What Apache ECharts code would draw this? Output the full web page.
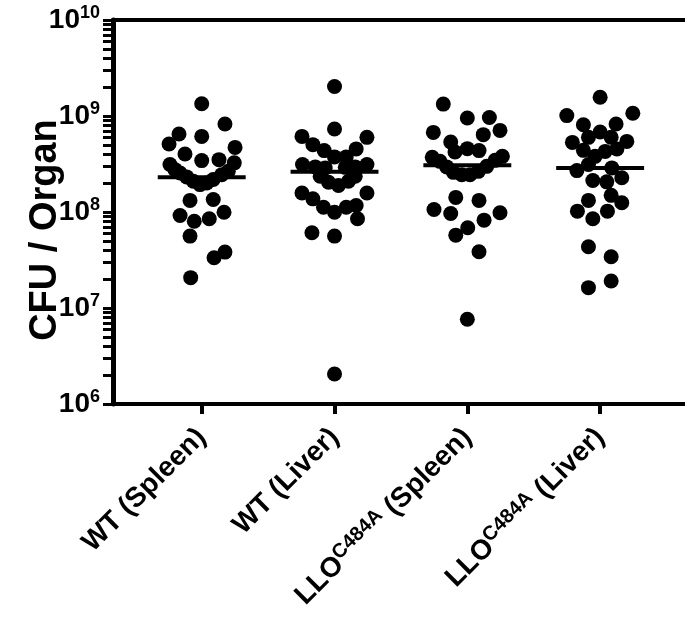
<!DOCTYPE html>
<html>
<head>
<meta charset="utf-8">
<script src="https://cdn.jsdelivr.net/npm/echarts@6/dist/echarts.min.js"></script>
<style>
  html, body { margin: 0; padding: 0; background: #fff; }
  #chart { width: 685px; height: 618px; }
</style>
</head>
<body>
<div id="chart"></div>
<script>
const categories = ['WT (Spleen)', 'WT (Liver)', 'LLO^C484A (Spleen)', 'LLO^C484A (Liver)'];
const yTickExponents = [6, 7, 8, 9, 10];

// CFU per organ, one value per mouse; jitter = horizontal spread in category units
const wtSpleen = [1.34e9, 8.25e8, 6.49e8, 6.13e8, 5.11e8, 4.71e8, 4.02e8, 3.43e8, 3.51e8, 3.12e8,
  3.25e8, 2.76e8, 2.55e8, 2.32e8, 2.09e8, 1.93e8, 2.01e8, 2.18e8, 2.45e8, 2.65e8,
  1.32e8, 1.35e8, 9.2e7, 8.02e7, 8.5e7, 9.95e7, 5.61e7, 3.34e7, 3.82e7, 2.07e7];
const wtSpleenJitter = [0, 0.175, -0.171, 0, -0.246, 0.251, -0.126, 0, 0.13, -0.239,
  0.245, -0.201, -0.163, -0.113, -0.063, -0.013, 0.038, 0.087, 0.151, 0.2,
  -0.088, 0.087, -0.163, -0.056, 0.057, 0.168, -0.088, 0.093, 0.175, -0.083];

const wtLiver = [2.03e9, 7.32e8, 6.13e8, 5.99e8, 5.03e8, 4.36e8, 4.54e8, 3.75e8, 3.75e8, 3.12e8,
  3.12e8, 2.95e8, 2.95e8, 2.88e8, 2.92e8, 2.36e8, 2.04e8, 1.89e8, 2.09e8, 2.36e8,
  1.58e8, 1.37e8, 1.12e8, 9.95e7, 1.12e8, 1.17e8, 1.58e8, 8.5e7, 6.08e7, 5.61e7, 2.05e6];
const wtLiverJitter = [0, 0, -0.245, 0.244, -0.163, -0.078, 0.163, 0, 0.088, -0.241,
  0.244, -0.145, 0.156, -0.07, 0.081, -0.108, -0.045, 0.03, 0.105, 0.156,
  -0.245, -0.163, -0.083, 0, 0.088, 0.163, 0.244, 0.173, -0.17, 0, 0];

const lloSpleen = [1.33e9, 9.52e8, 9.66e8, 6.75e8, 7.08e8, 6.39e8, 5.36e8, 4.22e8, 4.57e8, 4.36e8,
  3.71e8, 3.80e8, 3.37e8, 2.95e8, 2.59e8, 2.45e8, 2.45e8, 2.65e8, 2.99e8, 3.45e8,
  1.42e8, 1.32e8, 1.06e8, 9.65e7, 9.81e7, 8.22e7, 6.85e7, 5.74e7, 3.86e7, 7.64e6];
const lloSpleenJitter = [-0.181, 0, 0.166, -0.256, 0.246, 0.12, -0.125, -0.093, 0, 0.088,
  -0.264, 0.264, -0.206, -0.155, -0.105, -0.042, 0.02, 0.083, 0.146, 0.209,
  -0.087, 0.088, -0.251, -0.125, 0.246, 0.126, 0.003, -0.087, 0.088, 0];

const lloLiver = [1.57e9, 1.01e9, 1.07e9, 8.11e8, 8.25e8, 6.81e8, 5.99e8, 5.99e8, 5.31e8, 5.44e8,
  4.39e8, 4.28e8, 4.54e8, 3.80e8, 3.12e8, 2.70e8, 2.88e8, 2.13e8, 2.06e8, 2.27e8,
  1.49e8, 1.32e8, 1.25e8, 1.02e8, 8.5e7, 1.02e8, 4.35e7, 3.42e7, 1.63e7, 1.91e7];
const lloLiverJitter = [0, -0.251, 0.246, -0.126, 0.12, 0, -0.088, 0.083, -0.209, 0.201,
  -0.126, 0.038, 0.126, -0.038, -0.088, -0.175, 0.088, -0.055, 0.05, 0.163,
  0.083, -0.088, 0.163, -0.171, -0.055, 0.055, -0.088, 0.083, -0.088, 0.083];

const means = [2.30e8, 2.62e8, 3.06e8, 2.88e8];

const groups = [
  [wtSpleen, wtSpleenJitter],
  [wtLiver, wtLiverJitter],
  [lloSpleen, lloSpleenJitter],
  [lloLiver, lloLiverJitter]
];

const font = '"Liberation Sans", Arial, sans-serif';

// minor log ticks (1..9 x 10^n) on a linear helper axis in log10 units
const minorTicks = [];
for (let e = 6; e < 10; e++) {
  for (let k = 1; k <= 9; k++) minorTicks.push(e + Math.log10(k));
}
minorTicks.push(10);

function catLabel(name) {
  const m = name.match(/^(.*?)\^(\S+)(.*)$/);
  if (!m) return '{b|' + name + '}';
  return '{b|' + m[1] + '}{s|' + m[2] + '}{b|' + m[3] + '}';
}

const myChart = echarts.init(document.getElementById('chart'));

const series = groups.map(([vals, jit], i) => ({
  type: 'scatter',
  xAxisIndex: 0,
  yAxisIndex: 0,
  symbol: 'circle',
  symbolSize: 15,
  itemStyle: {color: '#000', opacity: 1},
  silent: true,
  data: vals.map((v, j) => [i + jit[j], v])
}));

series.push({
  type: 'custom',
  xAxisIndex: 0,
  yAxisIndex: 0,
  silent: true,
  data: means.map((m, i) => [i, m]),
  renderItem(params, api) {
    const x = api.value(0);
    const y = api.value(1);
    const a = api.coord([x - 0.331, y]);
    const b = api.coord([x + 0.331, y]);
    return {
      type: 'line',
      shape: {x1: a[0], y1: a[1], x2: b[0], y2: b[1]},
      style: {stroke: '#000', lineWidth: 4}
    };
  }
});

const option = {
  animation: false,
  backgroundColor: '#fff',
  grid: {left: 113, right: 0, top: 20, bottom: 214, containLabel: false},
  xAxis: [{
    type: 'value',
    position: 'bottom',
    min: -0.668,
    max: 3.639,
    splitLine: {show: false},
    axisLine: {show: true, onZero: false, lineStyle: {color: '#000', width: 4}},
    axisTick: {show: true, customValues: [0, 1, 2, 3], length: 10, lineStyle: {color: '#000', width: 4}},
    axisLabel: {
      show: true,
      customValues: [0, 1, 2, 3],
      rotate: 45,
      margin: 29,
      formatter: (v) => catLabel(categories[Math.round(v)]),
      rich: {
        b: {fontFamily: font, fontWeight: 'bold', fontSize: 28, color: '#000', lineHeight: 32},
        s: {fontFamily: font, fontWeight: 'bold', fontSize: 20, color: '#000', lineHeight: 20, verticalAlign: 'top'}
      }
    }
  }, {
    type: 'value',
    position: 'top',
    min: -0.668,
    max: 3.639,
    splitLine: {show: false},
    axisLine: {show: true, onZero: false, lineStyle: {color: '#000', width: 4}},
    axisTick: {show: false},
    axisLabel: {show: false}
  }],
  yAxis: [{
    type: 'log',
    logBase: 10,
    min: 1e6,
    max: 1e10,
    splitLine: {show: false},
    axisLine: {show: true, onZero: false, lineStyle: {color: '#000', width: 5}},
    axisTick: {show: false},
    axisLabel: {show: false},
    name: 'CFU / Organ',
    nameLocation: 'middle',
    nameRotate: 90,
    nameGap: 48,
    nameTextStyle: {fontFamily: font, fontWeight: 'bold', fontSize: 38, color: '#000', padding: [0, 36, 0, 0]}
  }, {
    type: 'value',
    min: 6,
    max: 10,
    interval: 1,
    position: 'left',
    splitLine: {show: false},
    axisLine: {show: false, onZero: false},
    axisTick: {show: true, customValues: minorTicks, length: 10, lineStyle: {color: '#000', width: 3}},
    axisLabel: {
      show: true,
      customValues: yTickExponents,
      margin: 13,
      formatter: (v) => '{b|10}{s|' + v + '}',
      rich: {
        b: {fontFamily: font, fontWeight: 'bold', fontSize: 28, color: '#000', lineHeight: 32},
        s: {fontFamily: font, fontWeight: 'bold', fontSize: 18, color: '#000', lineHeight: 18, verticalAlign: 'top'}
      }
    }
  }],
  series
};

myChart.setOption(option);
</script>
</body>
</html>
